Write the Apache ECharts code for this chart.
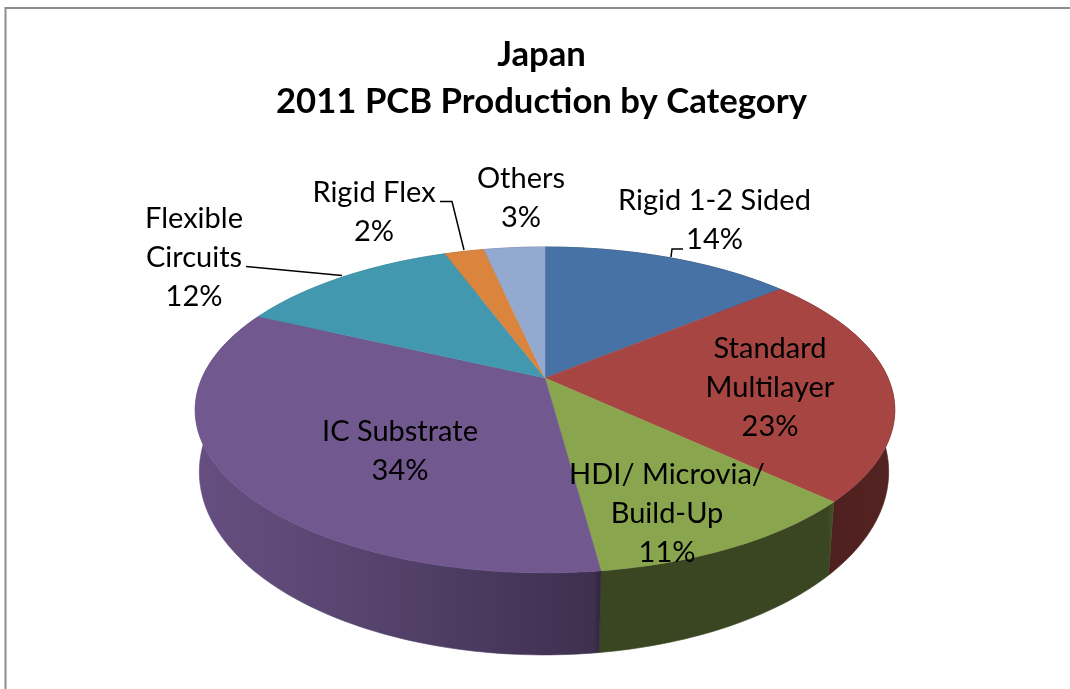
<!DOCTYPE html>
<html>
<head>
<meta charset="utf-8">
<title>Japan 2011 PCB Production by Category</title>
<script src="https://cdn.jsdelivr.net/npm/echarts@6/dist/echarts.min.js"></script>
<style>
    html, body { margin: 0; padding: 0; background: #fff; }
    #chart { width: 1070px; height: 689px; }
</style>
</head>
<body>
<div id="chart"></div>
<script>
// shares, labels show them rounded
var categories = ['Rigid 1-2 Sided', 'Standard\nMultilayer', 'HDI/ Microvia/\nBuild-Up', 'IC Substrate', 'Flexible\nCircuits', 'Rigid Flex', 'Others'];
var shares = [14, 23, 10.9, 34.1, 12.4, 2.2, 3.4];
var colors = ['#4672a6', '#a64542', '#89a54e', '#71588f', '#4198af', '#db843d', '#93a9cf'];

// label centres and leader lines, in pixels
var labelCentres = [[714.5, 220], [770, 388], [667, 514], [400, 451], [194, 258], [374, 212], [521, 198]];
var leaders = [
    [[683, 249], [672, 249], [671, 257]],
    null,
    null,
    null,
    [[246, 266.5], [342, 275.5]],
    [[440, 201.5], [452, 201.5], [464, 250]],
    null
];

// perspective of the top and bottom discs
var top_ = { cx: 545, cy: 378, rx: 343, ry: 156.7, k: 0.196 };
var bottom_ = { cx: 544, cy: 436, rx: 338, ry: 176, k: 0.196 };
var wallShade = [[0, 0.9], [0.22, 0.78], [0.57, 0.55], [0.58, 0.42], [0.905, 0.42], [0.91, 0.47], [1, 0.5]];

var total = shares.reduce(function (a, b) { return a + b; }, 0);

function project(disc, angle) {
    var u = Math.sin(angle), v = -Math.cos(angle);
    var d = 1 - disc.k * v;
    return [disc.cx + disc.rx * u / d, disc.cy + disc.ry * v / d];
}

function arc(disc, from, to) {
    var pts = [];
    var n = Math.max(2, Math.ceil((to - from) / 0.02));
    for (var i = 0; i <= n; i++) {
        pts.push(project(disc, from + (to - from) * i / n));
    }
    return pts;
}

function sliceAngles(idx) {
    var before = 0;
    for (var i = 0; i < idx; i++) before += shares[i];
    return [before / total * Math.PI * 2, (before + shares[idx]) / total * Math.PI * 2];
}

function darker(hex, f) {
    var n = parseInt(hex.slice(1), 16);
    return 'rgb(' + Math.round((n >> 16) * f) + ',' + Math.round(((n >> 8) & 255) * f) + ',' + Math.round((n & 255) * f) + ')';
}

function renderWall(params, api) {
    var a = sliceAngles(api.value(0));
    var base = colors[api.value(0)];
    var stops = wallShade.map(function (s) { return { offset: s[0], color: darker(base, s[1]) }; });
    var fill = new echarts.graphic.LinearGradient(195, 0, 894, 0, stops, true);
    var pts = arc(top_, a[0], a[1]).concat(arc(bottom_, a[0], a[1]).reverse());
    return { type: 'polygon', shape: { points: pts }, style: { fill: fill, stroke: fill, lineWidth: 0.6 } };
}

function renderTop(params, api) {
    var a = sliceAngles(api.value(0));
    var pts = [[top_.cx, top_.cy]].concat(arc(top_, a[0], a[1]));
    var c = colors[api.value(0)];
    return { type: 'polygon', shape: { points: pts }, style: { fill: c, stroke: c, lineWidth: 0.5 } };
}

function renderLabel(params, api) {
    var i = api.value(0);
    var kids = [{
        type: 'text',
        style: {
            x: labelCentres[i][0], y: labelCentres[i][1],
            text: categories[i] + '\n' + Math.round(shares[i]) + '%',
            fill: '#000', font: '400 29px Lato, sans-serif', lineHeight: 39,
            align: 'center', verticalAlign: 'middle'
        }
    }];
    if (leaders[i]) {
        kids.push({
            type: 'polyline',
            shape: { points: leaders[i] },
            style: { fill: null, stroke: '#000', lineWidth: 1.5 }
        });
    }
    return { type: 'group', children: kids };
}

var rows = categories.map(function (c, i) { return [i]; });

var chart = echarts.init(document.getElementById('chart'), null, { renderer: 'canvas' });
chart.setOption({
    animation: false,
    backgroundColor: '#fff',
    title: {
        text: 'Japan\n2011 PCB Production by Category',
        left: 536.5,
        top: 26,
        textAlign: 'center',
        textStyle: { fontFamily: 'Lato, sans-serif', fontSize: 34.7, fontWeight: 'bold', color: '#000', lineHeight: 47 }
    },
    graphic: [{
        type: 'polyline',
        silent: true,
        shape: { points: [[5.5, 689], [5.5, 8], [1070, 8]] },
        style: { fill: null, stroke: '#8c8c8c', lineWidth: 2 }
    }],
    series: [
        { type: 'custom', coordinateSystem: 'none', silent: true, z: 1, data: rows, renderItem: renderWall },
        { type: 'custom', coordinateSystem: 'none', silent: true, z: 2, data: rows, renderItem: renderTop },
        { type: 'custom', coordinateSystem: 'none', silent: true, z: 3, data: rows, renderItem: renderLabel }
    ]
});
</script>
</body>
</html>
